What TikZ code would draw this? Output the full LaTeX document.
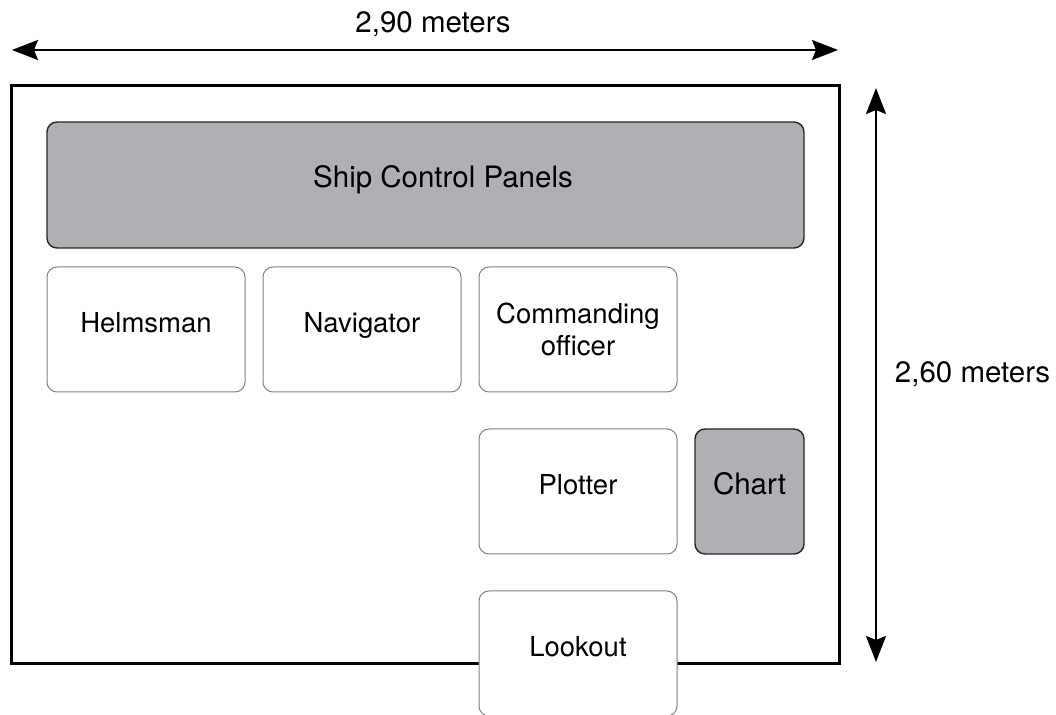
\documentclass[tikz,border=0pt]{standalone}
\usepackage{fontspec}
\setmainfont{TeX Gyre Heros}
\usetikzlibrary{arrows.meta}
\definecolor{panelgray}{RGB}{174,176,179}
\definecolor{edgegray}{RGB}{130,130,130}
\begin{document}
\begin{tikzpicture}[x=0.5pt,y=-0.5pt,
    station/.style={draw=edgegray,fill=white,line width=0.5pt,rounded corners=5pt,
      minimum width=99pt,minimum height=62.5pt,inner sep=0pt,align=center,
      font=\fontsize{13.75}{16}\selectfont},
    oneline/.style={text height=9.9pt,text depth=7pt},
    console/.style={draw=black!85,fill=panelgray,line width=0.7pt,rounded corners=5pt,
      inner sep=0pt,align=center,text height=10.6pt,text depth=8pt,
      font=\fontsize{14.75}{17}\selectfont},
    measure/.style={{Stealth[length=13pt,width=10pt,inset=2pt]}-{Stealth[length=13pt,width=10pt,inset=2pt]},line width=1pt},
    dimlabel/.style={anchor=base,inner sep=0pt,font=\fontsize{14.75}{17}\selectfont}]
  \useasboundingbox (0,0) rectangle (1056,715);

  % room outline
  \draw[line width=1.5pt] (11.5,86) rectangle (839,663.5);

  % consoles
  \node[console,minimum width=378.5pt,minimum height=63pt]
    (panels) at (425.5,185) {\hspace*{17.5pt}Ship Control Panels};
  \node[console,minimum width=54.5pt,minimum height=62.5pt] (chart) at (749.5,491.5) {Chart};

  % stations
  \node[station,oneline] (helm) at (146,329.5) {Helmsman};
  \node[station,oneline] (nav) at (362,329.5) {Navigator};
  \node[station] (co) at (578,329.5) {Commanding\\officer};
  \node[station,oneline] (plot) at (578,491.5) {Plotter};
  \node[station,oneline] (look) at (578,653.5) {Lookout};

  % dimensions
  \coordinate (wl) at (12,50);
  \coordinate (wr) at (838,50);
  \coordinate (ht) at (876,88);
  \coordinate (hb) at (876,662);
  \draw[measure] (wl) -- (wr);
  \draw[measure] (ht) -- (hb);
  \node[dimlabel] (width) at (433,33) {2,90 meters};
  \node[dimlabel] (height) at (972.5,383) {2,60 meters};
\end{tikzpicture}
\end{document}
